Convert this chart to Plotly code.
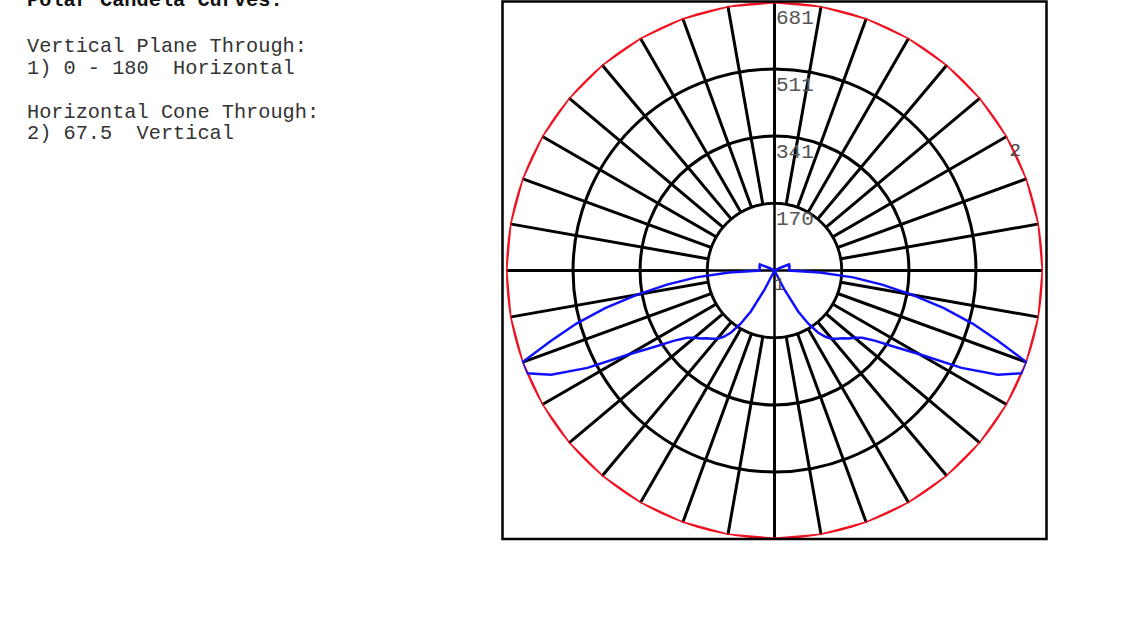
import numpy as np
import plotly.graph_objects as go

W, H = 1138, 634

# Curve 1: vertical plane through 0-180 horizontal (candela vs vertical angle, 0 = nadir)
vert_angles = [0, 2.5, 5, 7.5, 10, 12.5, 15, 17.5, 20, 22.5,
               25, 27.5, 30, 32.5, 35, 37.5, 40, 42.5, 45, 47.5,
               50, 52.5, 55, 57.5, 60, 62.5, 65, 67.5, 70, 72.5,
               75, 77.5, 80, 82.5, 85, 87.5, 90, 92.5, 95, 97.5,
               100, 102.5, 105, 107.5, 110, 112.5, 115, 117.5, 120, 125,
               130, 140, 150, 160, 170, 180]
cd_plane_0 = [0, 0, 0, 0, 0, 0, 0, 0, 0, 0,
              0, 55, 120, 160, 192, 212, 226, 235, 243, 255,
              265, 280, 310, 360, 425, 535, 625, 681, 681, 595,
              520, 440, 355, 275, 200, 115, 37, 37, 37, 38,
              38, 39, 39, 40, 40, 40, 18, 0, 0, 0,
              0, 0, 0, 0, 0, 0]
cd_plane_180 = [0, 0, 0, 0, 0, 0, 0, 0, 0, 0,
                0, 55, 120, 160, 192, 212, 226, 235, 243, 255,
                265, 280, 310, 360, 425, 535, 625, 681, 681, 595,
                520, 440, 355, 275, 200, 115, 37, 37, 37, 38,
                38, 39, 39, 40, 40, 40, 18, 0, 0, 0,
                0, 0, 0, 0, 0, 0]

# Curve 2: horizontal cone through 67.5 vertical (candela vs horizontal angle)
cone_h_angles = [0, 10, 20, 30, 40, 50, 60, 70, 80, 90, 100, 110, 120,
                 130, 140, 150, 160, 170, 180, 190, 200, 210, 220, 230,
                 240, 250, 260, 270, 280, 290, 300, 310, 320, 330, 340,
                 350, 360]
cd_cone = [681, 681, 681, 681, 681, 681, 681, 681, 681, 681, 681, 681, 681,
           681, 681, 681, 681, 681, 681, 681, 681, 681, 681, 681,
           681, 681, 681, 681, 681, 681, 681, 681, 681, 681, 681,
           681, 681]

ring_values = [170, 341, 511, 681]
ring_labels = ["170", "341", "511", "681"]
r_max = 681

MONO = "Liberation Mono"
GRID_W = 2.5

# polar area geometry (pixels)
cx, cy, rad = 774.5, 270.5, 268.5

fig = go.Figure()

# white disc inside the first ring hides the spokes near the centre
disc_theta = np.linspace(0, 360, 361)
fig.add_trace(go.Scatterpolar(
    r=[ring_values[0]] * len(disc_theta), theta=disc_theta,
    mode="lines", fill="toself", fillcolor="white",
    line=dict(color="black", width=GRID_W), hoverinfo="skip"))

# full-length horizontal and vertical axes through the centre
fig.add_trace(go.Scatterpolar(r=[r_max, 0, r_max], theta=[90, 90, 270], mode="lines",
                              line=dict(color="black", width=GRID_W), hoverinfo="skip"))
fig.add_trace(go.Scatterpolar(r=[r_max, 0, r_max], theta=[0, 0, 180], mode="lines",
                              line=dict(color="black", width=GRID_W), hoverinfo="skip"))

# curve 2 (cone)
fig.add_trace(go.Scatterpolar(r=cd_cone, theta=cone_h_angles, mode="lines",
                              cliponaxis=False,
                              line=dict(color="#f01020", width=3)))

# curve 1: 180 half drawn on the left, 0 half on the right
theta_left = [360 - v for v in vert_angles][::-1]
r_left = cd_plane_180[::-1]
fig.add_trace(go.Scatterpolar(r=r_left + cd_plane_0, theta=theta_left + vert_angles,
                              mode="lines", cliponaxis=False,
                              line=dict(color="#1010ff", width=2.5)))

# curve number labels
fig.add_trace(go.Scatterpolar(r=[40, 681], theta=[17, 116.3], mode="text",
                              text=["1", "2"], textposition="middle center",
                              cliponaxis=False,
                              textfont=dict(family=MONO, size=19, color="#444444")))

fig.update_layout(
    width=W, height=H,
    margin=dict(l=0, r=0, t=0, b=0),
    paper_bgcolor="white",
    showlegend=False,
    polar=dict(
        domain=dict(x=[(cx - rad) / W, (cx + rad) / W],
                    y=[1 - (cy + rad) / H, 1 - (cy - rad) / H]),
        bgcolor="white",
        radialaxis=dict(range=[0, r_max], tickvals=ring_values, showticklabels=False,
                        ticks="", showline=False, showgrid=True,
                        gridcolor="black", gridwidth=GRID_W, layer="below traces"),
        angularaxis=dict(rotation=270, direction="counterclockwise",
                         tickmode="linear", tick0=0, dtick=10,
                         showticklabels=False, ticks="", showgrid=True,
                         gridcolor="black", gridwidth=GRID_W,
                         showline=False, layer="below traces"),
    ),
    shapes=[dict(type="rect", xref="paper", yref="paper",
                 x0=502.5 / W, x1=1046.5 / W, y0=1 - 539 / H, y1=1 - 1.5 / H,
                 line=dict(color="black", width=GRID_W), layer="above")],
)

# ring value labels just below each ring on the upper vertical axis
for val, lab in zip(ring_values, ring_labels):
    ypx = cy - val / r_max * rad
    fig.add_annotation(text=lab, xref="paper", yref="paper",
                       x=774 / W, y=1 - (ypx + 3) / H, xanchor="left", yanchor="top",
                       showarrow=False,
                       font=dict(family=MONO, size=21, color="#555555"))

text_lines = [
    ("<b>Polar Candela Curves:</b>", 0, "#111111"),
    ("Vertical Plane Through:", 47, "#333333"),
    ("1) 0 - 180  Horizontal", 68, "#333333"),
    ("Horizontal Cone Through:", 112, "#333333"),
    ("2) 67.5  Vertical", 133, "#333333"),
]
for txt, ypx, col in text_lines:
    fig.add_annotation(text=txt, xref="paper", yref="paper",
                       x=25 / W, y=1 - ypx / H, xanchor="left", yanchor="middle",
                       showarrow=False,
                       font=dict(family=MONO, size=20.3, color=col))

fig.write_html("out.html")
